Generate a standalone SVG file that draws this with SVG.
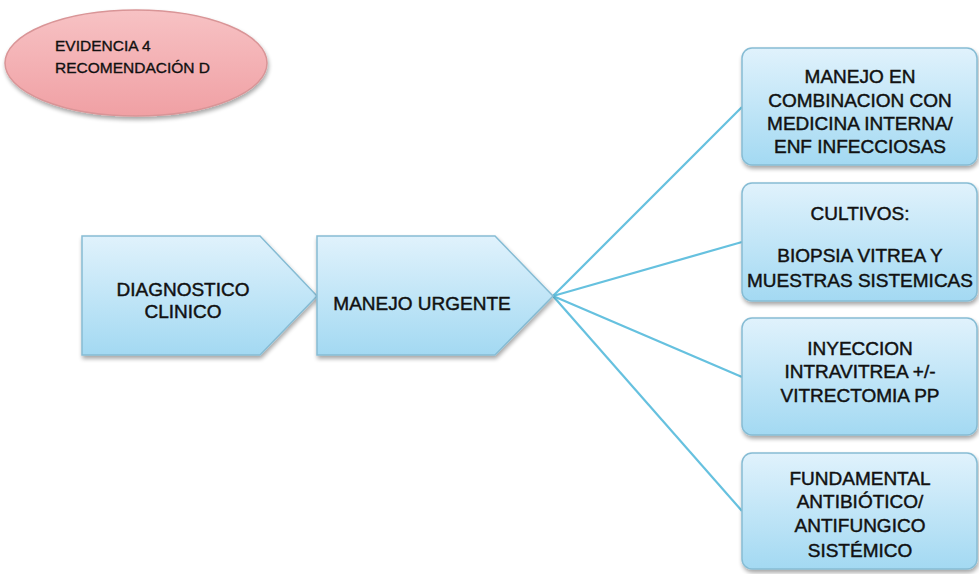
<svg xmlns="http://www.w3.org/2000/svg" width="979" height="574" viewBox="0 0 979 574">
<defs>
<linearGradient id="gBlue" x1="0" y1="0" x2="0" y2="1">
<stop offset="0" stop-color="#e0f2fc"/>
<stop offset="1" stop-color="#a3d9f2"/>
</linearGradient>
<linearGradient id="gPink" x1="0" y1="0" x2="0" y2="1">
<stop offset="0" stop-color="#f7c2c4"/>
<stop offset="1" stop-color="#f0a0a4"/>
</linearGradient>
<filter id="sh" x="-10%" y="-10%" width="130%" height="130%">
<feGaussianBlur in="SourceAlpha" stdDeviation="2"/>
<feOffset dx="1" dy="3" result="b"/>
<feComponentTransfer><feFuncA type="linear" slope="0.35"/></feComponentTransfer>
<feMerge><feMergeNode/><feMergeNode in="SourceGraphic"/></feMerge>
</filter>
</defs>
<style>
.box{fill:url(#gBlue);stroke:#86bcd4;stroke-width:1.5;filter:url(#sh)}
.ell{fill:url(#gPink);stroke:#d99597;stroke-width:1.5;filter:url(#sh)}
.t{font-family:"Liberation Sans",Arial,sans-serif;font-size:19px;fill:#111;stroke:#111;stroke-width:0.45;text-anchor:middle}
.ts{font-family:"Liberation Sans",Arial,sans-serif;font-size:15.5px;fill:#111;stroke:#111;stroke-width:0.35}
.c{stroke:#66c1df;stroke-width:2.2;fill:none}
</style>
<rect width="979" height="574" fill="#ffffff"/>
<g id="connectors">
<line class="c" x1="553" y1="296" x2="742" y2="107"/>
<line class="c" x1="553" y1="296" x2="742" y2="242"/>
<line class="c" x1="553" y1="296" x2="742" y2="377"/>
<line class="c" x1="553" y1="296" x2="742" y2="511"/>
</g>
<g id="evidencia">
<ellipse class="ell" cx="136" cy="63" rx="131" ry="53"/>
<text class="ts" x="55" y="51">EVIDENCIA 4</text>
<text class="ts" x="55" y="73">RECOMENDACIÓN D</text>
</g>
<g id="diagnostico">
<polygon class="box" points="82,236 260,236 317,296 260,355 82,355"/>
<text class="t" x="183" y="296">DIAGNOSTICO</text>
<text class="t" x="183" y="318">CLINICO</text>
</g>
<g id="manejo-urgente">
<polygon class="box" points="317,236 495,236 553,296 495,355 317,355"/>
<text class="t" x="422" y="310">MANEJO URGENTE</text>
</g>
<g id="box1">
<rect class="box" x="742" y="48" width="235" height="117" rx="10"/>
<text class="t" x="860" y="83">MANEJO EN</text>
<text class="t" x="860" y="107">COMBINACION CON</text>
<text class="t" x="860" y="130">MEDICINA INTERNA/</text>
<text class="t" x="860" y="153">ENF INFECCIOSAS</text>
</g>
<g id="box2">
<rect class="box" x="742" y="183" width="235" height="118" rx="10"/>
<text class="t" x="860" y="220">CULTIVOS:</text>
<text class="t" x="860" y="262">BIOPSIA VITREA Y</text>
<text class="t" x="860" y="287">MUESTRAS SISTEMICAS</text>
</g>
<g id="box3">
<rect class="box" x="742" y="318" width="235" height="117" rx="10"/>
<text class="t" x="860" y="355">INYECCION</text>
<text class="t" x="860" y="378">INTRAVITREA +/-</text>
<text class="t" x="860" y="402">VITRECTOMIA PP</text>
</g>
<g id="box4">
<rect class="box" x="742" y="453" width="235" height="116" rx="10"/>
<text class="t" x="860" y="485">FUNDAMENTAL</text>
<text class="t" x="860" y="508">ANTIBIÓTICO/</text>
<text class="t" x="860" y="532">ANTIFUNGICO</text>
<text class="t" x="860" y="557">SISTÉMICO</text>
</g>
</svg>
